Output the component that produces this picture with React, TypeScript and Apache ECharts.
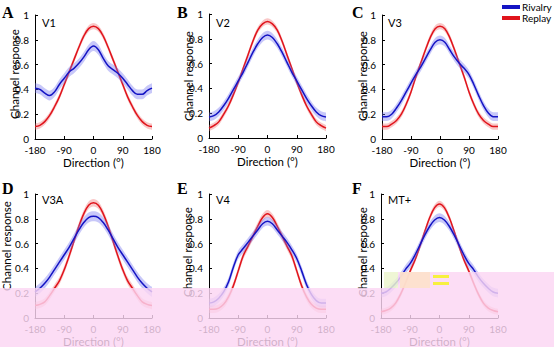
import React, { useEffect, useRef } from "react";
import * as echarts from "echarts";

// ---- data ----
const directions = [-180, -165, -150, -135, -120, -105, -90, -75, -60, -45, -30, -15, 0, 15, 30, 45, 60, 75, 90, 105, 120, 135, 150, 165, 180];

const panelNames = ["V1", "V2", "V3", "V3A", "V4", "MT+"];
const panelLetters = ["A", "B", "C", "D", "E", "F"];

const replayV1 = [0.10, 0.11, 0.14, 0.19, 0.26, 0.34, 0.44, 0.54, 0.64, 0.74, 0.83, 0.89, 0.91, 0.89, 0.83, 0.74, 0.64, 0.54, 0.44, 0.34, 0.26, 0.19, 0.14, 0.11, 0.10];
const rivalryV1 = [0.41, 0.40, 0.37, 0.35, 0.38, 0.44, 0.49, 0.54, 0.57, 0.61, 0.66, 0.72, 0.75, 0.72, 0.65, 0.59, 0.56, 0.53, 0.49, 0.44, 0.39, 0.36, 0.36, 0.39, 0.41];

const replayV2 = [0.08, 0.10, 0.13, 0.19, 0.26, 0.35, 0.45, 0.56, 0.67, 0.78, 0.87, 0.92, 0.94, 0.92, 0.87, 0.78, 0.67, 0.56, 0.45, 0.35, 0.26, 0.19, 0.13, 0.10, 0.08];
const rivalryV2 = [0.17, 0.18, 0.21, 0.26, 0.32, 0.39, 0.46, 0.53, 0.61, 0.69, 0.76, 0.81, 0.83, 0.81, 0.76, 0.69, 0.61, 0.53, 0.46, 0.39, 0.32, 0.26, 0.21, 0.18, 0.17];

const replayV3 = [0.10, 0.10, 0.12, 0.15, 0.20, 0.28, 0.38, 0.50, 0.61, 0.72, 0.82, 0.89, 0.91, 0.89, 0.82, 0.72, 0.61, 0.50, 0.38, 0.28, 0.20, 0.15, 0.12, 0.10, 0.10];
const rivalryV3 = [0.18, 0.18, 0.20, 0.25, 0.31, 0.38, 0.45, 0.52, 0.58, 0.65, 0.72, 0.78, 0.80, 0.78, 0.72, 0.66, 0.61, 0.57, 0.52, 0.44, 0.35, 0.27, 0.21, 0.18, 0.18];

const replayV3A = [0.10, 0.11, 0.13, 0.18, 0.24, 0.30, 0.39, 0.50, 0.62, 0.74, 0.84, 0.91, 0.93, 0.91, 0.84, 0.74, 0.62, 0.50, 0.39, 0.30, 0.24, 0.18, 0.13, 0.11, 0.10];
const rivalryV3A = [0.21, 0.24, 0.28, 0.33, 0.39, 0.45, 0.51, 0.57, 0.64, 0.71, 0.77, 0.81, 0.82, 0.81, 0.77, 0.71, 0.64, 0.57, 0.51, 0.45, 0.39, 0.33, 0.28, 0.24, 0.21];

const replayV4 = [0.07, 0.07, 0.08, 0.11, 0.17, 0.26, 0.38, 0.50, 0.58, 0.66, 0.74, 0.81, 0.84, 0.81, 0.74, 0.66, 0.58, 0.50, 0.38, 0.26, 0.17, 0.11, 0.08, 0.07, 0.07];
const rivalryV4 = [0.12, 0.13, 0.16, 0.21, 0.29, 0.41, 0.51, 0.56, 0.61, 0.66, 0.71, 0.76, 0.78, 0.76, 0.71, 0.66, 0.61, 0.55, 0.48, 0.38, 0.27, 0.19, 0.14, 0.12, 0.12];

const replayMT = [0.05, 0.06, 0.08, 0.12, 0.19, 0.28, 0.38, 0.47, 0.58, 0.70, 0.81, 0.89, 0.92, 0.89, 0.81, 0.70, 0.58, 0.47, 0.38, 0.28, 0.19, 0.12, 0.08, 0.06, 0.05];
const rivalryMT = [0.20, 0.21, 0.24, 0.28, 0.33, 0.39, 0.44, 0.51, 0.59, 0.67, 0.74, 0.79, 0.81, 0.79, 0.74, 0.67, 0.59, 0.51, 0.44, 0.39, 0.33, 0.28, 0.24, 0.21, 0.20];

// error band half-widths (per panel)
const replayErr = [0.025, 0.025, 0.025, 0.03, 0.03, 0.025];
const rivalryErr = [0.04, 0.035, 0.035, 0.04, 0.035, 0.035];

const replayData = [replayV1, replayV2, replayV3, replayV3A, replayV4, replayMT];
const rivalryData = [rivalryV1, rivalryV2, rivalryV3, rivalryV3A, rivalryV4, rivalryMT];

// ---- layout ----
const GRIDS = [
  { left: 35, top: 15, width: 117, height: 124 },
  { left: 209, top: 14, width: 117, height: 124 },
  { left: 382, top: 15, width: 116, height: 124 },
  { left: 35, top: 194, width: 117, height: 124 },
  { left: 209, top: 194, width: 117, height: 124 },
  { left: 381, top: 194, width: 117, height: 124 },
];
const LETTER_POS = [[2, 12], [177, 12], [352, 12], [2, 188], [177, 188], [352, 188]];
const NAME_POS = [[42, 22], [216, 22], [388, 22], [42, 199], [216, 199], [388, 199]];
const YTITLE_POS = [[14, 74], [188, 76], [362, 76], [6, 246], [187, 252], [362, 252]];

const RED = "#e0141c";
const BLUE = "#1414c4";
const RED_BAND = "rgba(240,110,110,0.38)";
const BLUE_BAND = "rgba(110,110,240,0.38)";
const FONT = "Lato, 'Open Sans', sans-serif";

function buildOption() {
  const grid = GRIDS.map((g) => ({ ...g, containLabel: false }));
  const xAxis = GRIDS.map((_, i) => ({
    type: "category",
    gridIndex: i,
    data: directions.map(String),
    boundaryGap: false,
    axisLine: { lineStyle: { color: "#000", width: 1 } },
    axisTick: { inside: true, length: 3, interval: 5, lineStyle: { color: "#000" } },
    axisLabel: { interval: 5, fontSize: 10, lineHeight: 10, color: "#000", margin: 6, fontFamily: FONT },
    splitLine: { show: false },
  }));
  const yAxis = GRIDS.map((_, i) => ({
    type: "value",
    gridIndex: i,
    min: 0,
    max: 1,
    interval: 0.2,
    axisLine: { show: true, lineStyle: { color: "#000", width: 1 } },
    axisTick: { show: true, inside: true, length: 3, lineStyle: { color: "#000" } },
    axisLabel: { fontSize: 10, lineHeight: 10, color: "#000", margin: 6, fontFamily: FONT },
    splitLine: { show: false },
  }));

  const series: any[] = [];
  GRIDS.forEach((_, i) => {
    const red = replayData[i];
    const blue = rivalryData[i];
    const re = replayErr[i];
    const be = rivalryErr[i];
    const common = {
      type: "line",
      xAxisIndex: i,
      yAxisIndex: i,
      symbol: "none",
      smooth: 0.35,
      silent: true,
      emphasis: { disabled: true },
    };
    series.push({ ...common, stack: "rb" + i, data: red.map((v) => +(v - re).toFixed(3)), lineStyle: { opacity: 0 }, z: 1 });
    series.push({ ...common, stack: "rb" + i, data: red.map(() => 2 * re), lineStyle: { opacity: 0 }, areaStyle: { color: RED_BAND, opacity: 1 }, z: 1 });
    series.push({ ...common, name: "Replay", data: red, lineStyle: { color: RED, width: 1.5 }, itemStyle: { color: RED }, z: 2 });
    series.push({ ...common, stack: "bb" + i, data: blue.map((v) => +(v - be).toFixed(3)), lineStyle: { opacity: 0 }, z: 3 });
    series.push({ ...common, stack: "bb" + i, data: blue.map(() => 2 * be), lineStyle: { opacity: 0 }, areaStyle: { color: BLUE_BAND, opacity: 1 }, z: 3 });
    series.push({ ...common, name: "Rivalry", data: blue, lineStyle: { color: BLUE, width: 1.5 }, itemStyle: { color: BLUE }, z: 4 });
  });

  const graphic: any[] = [];
  GRIDS.forEach((g, i) => {
    graphic.push({
      type: "text",
      x: LETTER_POS[i][0],
      y: LETTER_POS[i][1],
      style: { text: panelLetters[i], font: "bold 16px 'Liberation Serif', 'Times New Roman', serif", fill: "#000", textVerticalAlign: "middle" },
    });
    graphic.push({
      type: "text",
      x: NAME_POS[i][0],
      y: NAME_POS[i][1],
      style: { text: panelNames[i], font: `11px ${FONT}`, fill: "#000", textVerticalAlign: "middle" },
    });
    graphic.push({
      type: "text",
      x: YTITLE_POS[i][0],
      y: YTITLE_POS[i][1],
      rotation: Math.PI / 2,
      style: { text: "Channel response", font: `11.5px ${FONT}`, fill: "#000", textAlign: "center", textVerticalAlign: "middle" },
    });
    graphic.push({
      type: "text",
      x: g.left + g.width / 2,
      y: g.top + g.height + 23,
      style: { text: "Direction (°)", font: `11.5px ${FONT}`, fill: "#000", textAlign: "center", textVerticalAlign: "middle" },
    });
  });

  // image corruption tint seen in the reference's lower band
  graphic.push({ type: "rect", z: 100, shape: { x: 0, y: 288, width: 554, height: 59 }, style: { fill: "rgba(251,214,243,0.82)" } });
  graphic.push({ type: "rect", z: 100, shape: { x: 398, y: 272, width: 156, height: 16 }, style: { fill: "rgba(251,214,243,0.82)" } });
  graphic.push({ type: "rect", z: 100, shape: { x: 384, y: 272, width: 14, height: 16 }, style: { fill: "rgba(236,244,206,0.85)" } });
  graphic.push({ type: "rect", z: 100, shape: { x: 400, y: 272, width: 30, height: 16 }, style: { fill: "rgba(253,226,200,0.85)" } });
  graphic.push({ type: "rect", z: 101, shape: { x: 433, y: 275, width: 16, height: 3 }, style: { fill: "#f7f040" } });
  graphic.push({ type: "rect", z: 101, shape: { x: 433, y: 282, width: 16, height: 3 }, style: { fill: "#f7f040" } });

  return {
    animation: false,
    grid,
    xAxis,
    yAxis,
    series,
    graphic,
    legend: {
      data: ["Rivalry", "Replay"],
      orient: "vertical",
      left: 502,
      top: 2,
      itemGap: 1,
      itemWidth: 18,
      itemHeight: 4,
      icon: "rect",
      padding: 0,
      selectedMode: false,
      textStyle: { fontSize: 10, lineHeight: 10, color: "#000", fontFamily: FONT, padding: [0, 0, 0, -3] },
    },
  };
}

export default function App() {
  const ref = useRef<HTMLDivElement>(null);
  useEffect(() => {
    if (!ref.current) return;
    const chart = echarts.init(ref.current, undefined, { renderer: "svg" });
    chart.setOption(buildOption() as any);
    return () => chart.dispose();
  }, []);
  return (
    <div
      ref={ref}
      style={{ position: "fixed", left: 0, top: 0, width: 554, height: 347, background: "#fff" }}
    />
  );
}
